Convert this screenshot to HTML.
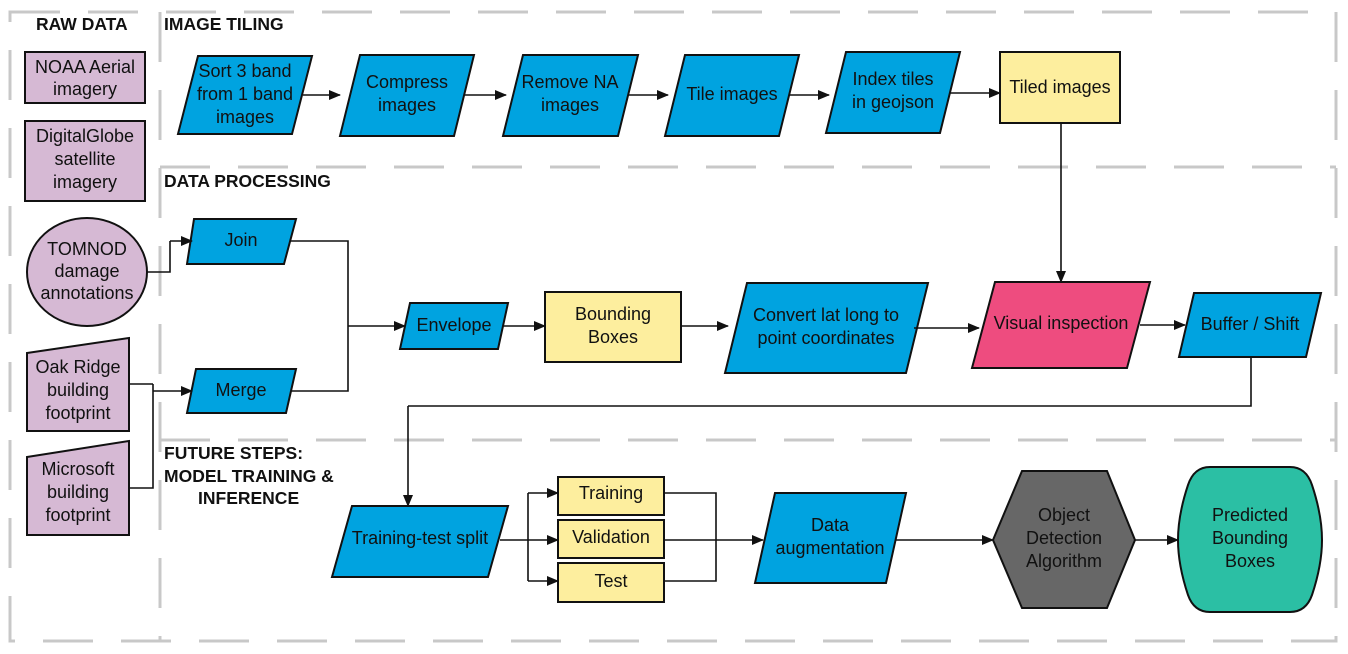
<!DOCTYPE html>
<html><head><meta charset="utf-8"><style>
body{margin:0;background:#fff}
svg{display:block}
text{font-family:"Liberation Sans",sans-serif;font-size:18px;fill:#111;text-anchor:middle}
.h{font-weight:bold;text-anchor:start;font-size:17.5px}
.d{stroke:#c8c8c8;stroke-width:3;stroke-dasharray:50,28;fill:none}
.c{stroke:#111;stroke-width:1.6;fill:none;marker-end:url(#a)}
.l{stroke:#111;stroke-width:1.6;fill:none}
.b{fill:#00a3e0;stroke:#111;stroke-width:2}
.p{fill:#d6b9d4;stroke:#111;stroke-width:2}
.y{fill:#fdee9e;stroke:#111;stroke-width:2}
</style></head><body>
<svg width="1348" height="654" viewBox="0 0 1348 654">
<defs><marker id="a" markerWidth="12" markerHeight="10" refX="11" refY="5" orient="auto" markerUnits="userSpaceOnUse"><path d="M0,0L12,5L0,10z" fill="#111"/></marker></defs>
<path class="d" d="M10,12H1336V641H10Z"/>
<path class="d" d="M160,12V641"/>
<path class="d" d="M160,167H1336"/>
<path class="d" d="M160,440H1336"/>
<text class="h" x="36" y="30">RAW DATA</text>
<text class="h" x="164" y="30">IMAGE TILING</text>
<text class="h" x="164" y="187">DATA PROCESSING</text>
<text class="h" x="164" y="459">FUTURE STEPS:</text>
<text class="h" x="164" y="482">MODEL TRAINING &amp;</text>
<text class="h" x="198" y="504">INFERENCE</text>
<rect class="p" x="25" y="52" width="120" height="51"/>
<text x="85" y="73">NOAA Aerial</text><text x="85" y="95">imagery</text>
<rect class="p" x="25" y="121" width="120" height="80"/>
<text x="85" y="142">DigitalGlobe</text><text x="85" y="165">satellite</text><text x="85" y="188">imagery</text>
<ellipse class="p" cx="87" cy="272" rx="60" ry="54"/>
<text x="87" y="255">TOMNOD</text><text x="87" y="277">damage</text><text x="87" y="299">annotations</text>
<path class="p" d="M27,353L129,338V431H27Z"/>
<text x="78" y="373">Oak Ridge</text><text x="78" y="396">building</text><text x="78" y="419">footprint</text>
<path class="p" d="M27,457L129,441V535H27Z"/>
<text x="78" y="475">Microsoft</text><text x="78" y="498">building</text><text x="78" y="521">footprint</text>
<polygon class="b" points="198,56 312,56 292,134 178,134"/>
<text x="245" y="77">Sort 3 band</text><text x="245" y="100">from 1 band</text><text x="245" y="123">images</text>
<polygon class="b" points="360,55 474,55 454,136 340,136"/>
<text x="407" y="88">Compress</text><text x="407" y="111">images</text>
<polygon class="b" points="523,55 638,55 618,136 503,136"/>
<text x="570" y="88">Remove NA</text><text x="570" y="111">images</text>
<polygon class="b" points="685,55 799,55 779,136 665,136"/>
<text x="732" y="100">Tile images</text>
<polygon class="b" points="846,52 960,52 940,133 826,133"/>
<text x="893" y="85">Index tiles</text><text x="893" y="108">in geojson</text>
<rect class="y" x="1000" y="52" width="120" height="71"/>
<text x="1060" y="93">Tiled images</text>
<path class="c" d="M303,95H340"/>
<path class="c" d="M465,95H506"/>
<path class="c" d="M628,95H668"/>
<path class="c" d="M789,95H829"/>
<path class="c" d="M950,93H1000"/>
<path class="c" d="M1061,123V282"/>
<polygon class="b" points="194,219 296,219 284,264 187,264"/>
<text x="241" y="246">Join</text>
<polygon class="b" points="196,369 296,369 286,413 187,413"/>
<text x="241" y="396">Merge</text>
<path class="l" d="M147,272H170V241"/><path class="c" d="M170,241H192"/>
<path class="l" d="M129,384H153M129,488H153V384"/><path class="c" d="M153,391H192"/>
<path class="l" d="M290,241H348V391H291"/>
<path class="c" d="M348,326H405"/>
<polygon class="b" points="410,303 508,303 498,349 400,349"/>
<text x="454" y="331">Envelope</text>
<rect class="y" x="545" y="292" width="136" height="70"/>
<text x="613" y="320">Bounding</text><text x="613" y="343">Boxes</text>
<polygon class="b" points="747,283 928,283 906,373 725,373"/>
<text x="826" y="321">Convert lat long to</text><text x="826" y="344">point coordinates</text>
<polygon class="b" points="995,282 1150,282 1127,368 972,368" style="fill:#ee4c7f"/>
<text x="1061" y="329">Visual inspection</text>
<polygon class="b" points="1194,293 1321,293 1306,357 1179,357"/>
<text x="1250" y="330">Buffer / Shift</text>
<path class="c" d="M503,326H545"/>
<path class="c" d="M681,326H728"/>
<path class="c" d="M914,328H979"/>
<path class="c" d="M1140,325H1185"/>
<path class="l" d="M1251,357V406H408"/><path class="c" d="M408,406V506"/>
<polygon class="b" points="352,506 508,506 488,577 332,577"/>
<text x="420" y="544">Training-test split</text>
<rect class="y" x="558" y="477" width="106" height="38"/><text x="611" y="499">Training</text>
<rect class="y" x="558" y="520" width="106" height="38"/><text x="611" y="543">Validation</text>
<rect class="y" x="558" y="563" width="106" height="39"/><text x="611" y="587">Test</text>
<path class="l" d="M500,540H528M528,493V581"/>
<path class="c" d="M528,493H558"/><path class="c" d="M528,540H558"/><path class="c" d="M528,581H558"/>
<path class="l" d="M664,493H716V581H664M664,540H716"/>
<path class="c" d="M716,540H763"/>
<polygon class="b" points="775,493 906,493 886,583 755,583"/>
<text x="830" y="531">Data</text><text x="830" y="554">augmentation</text>
<path class="c" d="M896,540H993"/>
<polygon points="1022,471 1107,471 1135,540 1107,608 1022,608 993,540" fill="#676767" stroke="#111" stroke-width="2"/>
<text x="1064" y="521">Object</text><text x="1064" y="544">Detection</text><text x="1064" y="567">Algorithm</text>
<path class="c" d="M1135,540H1178"/>
<path d="M1210,467H1290Q1306,467 1312,485Q1322,515 1322,540Q1322,565 1312,595Q1306,612 1290,612H1210Q1194,612 1188,595Q1178,565 1178,540Q1178,515 1188,485Q1194,467 1210,467Z" fill="#2bbfa4" stroke="#111" stroke-width="2"/>
<text x="1250" y="521">Predicted</text><text x="1250" y="544">Bounding</text><text x="1250" y="567">Boxes</text>
</svg>
</body></html>
